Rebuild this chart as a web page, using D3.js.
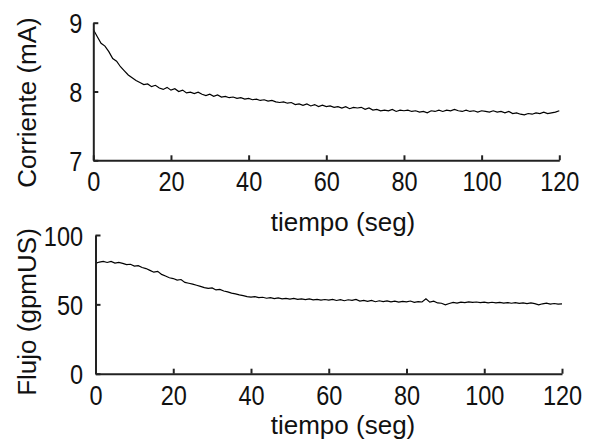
<!DOCTYPE html>
<html>
<head>
<meta charset="utf-8">
<script src="https://cdn.jsdelivr.net/npm/d3@7"></script>
<style>
  html, body { margin: 0; padding: 0; background: #fff; }
  svg { display: block; }
  text { font-family: "Liberation Sans", Arial, sans-serif; fill: #111; }
</style>
</head>
<body>
<svg id="chart" width="592" height="441"></svg>
<script>
// ---- data (1 sample per second, t = 0..120 s) ----
const xTicks = [0, 20, 40, 60, 80, 100, 120];
const corrienteTicks = [7, 8, 9];
const flujoTicks = [0, 50, 100];
const xLabel = "tiempo (seg)";
const corrienteLabel = "Corriente (mA)";
const flujoLabel = "Flujo (gpmUS)";

const corriente = [
  8.90, 8.80, 8.70, 8.66, 8.58, 8.48, 8.44, 8.36, 8.30, 8.24,
  8.20, 8.16, 8.13, 8.10, 8.11, 8.07, 8.09, 8.05, 8.03, 8.06,
  8.02, 8.04, 8.00, 8.02, 7.98, 7.99, 7.97, 7.99, 7.96, 7.94,
  7.96, 7.93, 7.95, 7.92, 7.93, 7.91, 7.92, 7.90, 7.91, 7.89,
  7.90, 7.88, 7.89, 7.87, 7.88, 7.86, 7.87, 7.85, 7.84, 7.85,
  7.83, 7.84, 7.81, 7.82, 7.80, 7.82, 7.79, 7.81, 7.78, 7.80,
  7.78, 7.79, 7.77, 7.78, 7.76, 7.78, 7.75, 7.77, 7.76, 7.77,
  7.74, 7.76, 7.73, 7.74, 7.72, 7.73, 7.72, 7.74, 7.71, 7.73,
  7.72, 7.73, 7.71, 7.72, 7.70, 7.71, 7.69, 7.72, 7.71, 7.73,
  7.71, 7.73, 7.72, 7.74, 7.72, 7.71, 7.73, 7.71, 7.72, 7.70,
  7.72, 7.71, 7.70, 7.72, 7.70, 7.71, 7.69, 7.71, 7.68, 7.69,
  7.67, 7.66, 7.68, 7.67, 7.69, 7.68, 7.70, 7.68, 7.69, 7.70,
  7.72
];

const flujo = [
  79.5, 80.5, 81.0, 80.2, 81.0, 79.8, 80.3, 79.5, 78.6, 78.9,
  77.6, 77.9, 76.6, 75.8, 74.5, 73.2, 73.8, 71.6, 70.4, 69.2,
  68.6, 67.5, 67.9, 65.8, 65.2, 64.6, 63.8, 63.0, 62.1, 61.5,
  61.8, 60.4, 60.8, 59.6, 59.0, 58.1, 57.6, 56.8, 56.3, 55.6,
  55.2, 55.6, 54.8, 55.1, 54.4, 54.8, 54.2, 54.6, 53.9, 54.3,
  53.8, 54.3, 53.6, 54.0, 53.4, 53.9, 53.2, 53.6, 53.0, 53.5,
  53.1, 53.6, 52.8, 53.4, 52.6, 53.3, 52.9, 53.5, 52.4, 52.9,
  52.2, 52.8, 51.9, 52.6, 52.0, 52.5, 51.8, 52.3, 51.6, 52.1,
  51.8, 52.4, 51.5, 52.0, 51.7, 54.0, 51.6, 52.3, 51.0, 50.8,
  49.7, 50.6, 51.4, 50.9, 51.6, 51.2, 51.8, 51.4, 51.7, 51.3,
  51.6, 51.1, 51.5, 51.0, 51.4, 50.9, 51.3, 50.8, 51.2, 50.7,
  51.1, 50.6, 51.0, 50.5, 49.6, 50.4, 50.9, 50.2, 50.6, 50.1,
  50.3
];

// ---- drawing ----
const svg = d3.select("#chart");
const FONT = 27, SX = 0.87;

function panel(cfg) {
  const x = d3.scaleLinear().domain([0, 120]).range([cfg.x0, cfg.x1]);
  const y = d3.scaleLinear().domain(cfg.yDomain).range([cfg.yBottom, cfg.yTop]);
  const g = svg.append("g");

  const line = d3.line().x((d, i) => x(i)).y(d => y(d));
  g.append("path").datum(cfg.values)
    .attr("fill", "none").attr("stroke", "#000")
    .attr("stroke-width", 1.2).attr("stroke-linejoin", "miter")
    .attr("d", line);

  const xa = g.append("g").attr("transform", `translate(0,${cfg.yBottom})`)
    .call(d3.axisBottom(x).tickValues(xTicks).tickFormat(d3.format("d"))
      .tickSizeInner(-5).tickSizeOuter(0).tickPadding(cfg.xPad));
  const ya = g.append("g").attr("transform", `translate(${cfg.x0},0)`)
    .call(d3.axisLeft(y).tickValues(cfg.yTicks).tickFormat(d3.format("d"))
      .tickSizeInner(-5).tickSizeOuter(0).tickPadding(cfg.yPad / SX));

  [xa, ya].forEach(a => {
    a.select(".domain").attr("stroke", "#222").attr("stroke-width", 2);
    a.selectAll(".tick line").attr("stroke", "#222").attr("stroke-width", 2);
    a.selectAll(".tick text").attr("font-size", FONT).attr("fill", "#111")
      .attr("font-family", "Liberation Sans, Arial, sans-serif")
      .attr("transform", `scale(${SX},1)`);
  });
  ya.selectAll(".tick text").attr("dy", "0.38em");

  g.append("text").attr("x", 343).attr("y", cfg.xLabelY)
    .attr("text-anchor", "middle").attr("font-size", 26).text(xLabel);
  g.append("text")
    .attr("transform", `translate(${cfg.yLabelX},${cfg.yLabelCY}) rotate(-90)`)
    .attr("text-anchor", "middle").attr("font-size", 26).text(cfg.yLabel);
}

panel({ x0: 93.3, x1: 559.3, yTop: 22.7, yBottom: 160.3, yDomain: [7, 9],
  yTicks: corrienteTicks, values: corriente, xPad: 11.5, yPad: 11,
  xLabelY: 231, yLabel: corrienteLabel, yLabelX: 36, yLabelCY: 102.5 });

panel({ x0: 95.5, x1: 562, yTop: 235, yBottom: 373.7, yDomain: [0, 100],
  yTicks: flujoTicks, values: flujo, xPad: 12.5, yPad: 12.5,
  xLabelY: 434, yLabel: flujoLabel, yLabelX: 35.5, yLabelCY: 312 });
</script>
</body>
</html>
